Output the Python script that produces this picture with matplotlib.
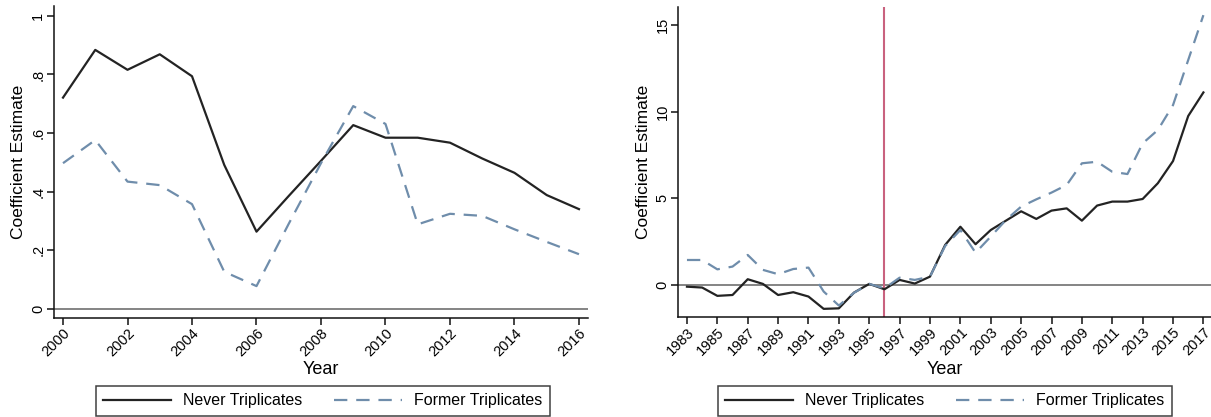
import matplotlib
matplotlib.use("Agg")
import matplotlib.pyplot as plt
import numpy as np

plt.rcParams['font.family'] = ['Liberation Sans Narrow', 'Liberation Sans', 'DejaVu Sans']

# Panel A: annual coefficient estimates, 2000-2016
years_a = list(range(2000, 2017))
never_a = [0.721, 0.884, 0.816, 0.869, 0.794, 0.491, 0.263, 0.385, 0.505,
           0.627, 0.584, 0.584, 0.567, 0.513, 0.464, 0.388, 0.340]
former_a = [0.497, 0.576, 0.434, 0.422, 0.357, 0.126, 0.077, 0.290, 0.497,
            0.692, 0.631, 0.288, 0.324, 0.317, 0.271, 0.228, 0.186]
yticks_a = [0, 0.2, 0.4, 0.6, 0.8, 1.0]
ylabels_a = ["0", ".2", ".4", ".6", ".8", "1"]

# Panel B: annual coefficient estimates, 1983-2017
years_b = list(range(1983, 2018))
never_b = [-0.10, -0.15, -0.63, -0.58, 0.33, 0.06, -0.58, -0.42, -0.67, -1.38,
           -1.35, -0.44, 0.06, -0.25, 0.29, 0.08, 0.48, 2.31, 3.36, 2.35,
           3.17, 3.71, 4.25, 3.81, 4.29, 4.42, 3.71, 4.58, 4.81, 4.81,
           4.96, 5.87, 7.15, 9.75, 11.11]
former_b = [1.44, 1.44, 0.90, 1.06, 1.73, 0.87, 0.62, 0.92, 1.00, -0.38,
            -1.19, -0.45, 0.06, -0.20, 0.42, 0.29, 0.48, 2.25, 3.17, 1.86,
            2.79, 3.75, 4.52, 4.94, 5.33, 5.77, 7.02, 7.11, 6.53, 6.40,
            8.17, 8.94, 10.38, 12.98, 15.57]
yticks_b = [0, 5, 10, 15]
ylabels_b = ["0", "5", "10", "15"]
event_year = 1996

series_labels = ["Never Triplicates", "Former Triplicates"]
solid_color = "#232323"
dash_color = "#6f8dab"

W, H = 1211, 417
fig = plt.figure(figsize=(W / 100, H / 100), dpi=100)


def box(x0, y0, x1, y1):
    return [x0 / W, 1 - y1 / H, (x1 - x0) / W, (y1 - y0) / H]


def style_axes(ax, years, step, ylabel_x):
    for s in ("top", "right"):
        ax.spines[s].set_visible(False)
    for s in ("left", "bottom"):
        ax.spines[s].set_linewidth(1.1)
        ax.spines[s].set_color("#111111")
    ax.tick_params(direction="out", length=5, width=1.1, color="#111111",
                   labelsize=10.5, pad=1)
    ax.set_xticks(years[::step])
    ax.set_xticklabels([str(y) for y in years[::step]], rotation=45,
                       ha="right", va="top", rotation_mode="anchor")
    for lab in ax.get_yticklabels():
        lab.set_rotation(90)
        lab.set_va("center")
    ax.set_xlabel("Year", fontsize=13)
    ax.set_ylabel("Coefficient Estimate", fontsize=12.5)
    bb = ax.get_position()
    ax.xaxis.set_label_coords(0.5, (1 - 369 / H - bb.y0) / bb.height)
    ax.yaxis.set_label_coords((ylabel_x / W - bb.x0) / bb.width, 0.5)
    ax.xaxis.label.set_va("center")
    ax.yaxis.label.set_ha("center")
    ax.yaxis.label.set_va("center")


# Left panel
ax1 = fig.add_axes(box(53.5, 6, 588, 318))
ax1.axhline(0, color="#707070", lw=1.2, zorder=1)
l1, = ax1.plot(years_a, never_a, color=solid_color, lw=1.6)
l2, = ax1.plot(years_a, former_a, color=dash_color, lw=1.6, ls=(0, (6, 4)))
ax1.set_xlim(1999.705, 2016.28)
ax1.set_ylim(-0.032, 1.034)
ax1.set_yticks(yticks_a)
ax1.set_yticklabels(ylabels_a)
style_axes(ax1, years_a, 2, 19)

# Right panel
ax2 = fig.add_axes(box(678, 7, 1211, 317))
ax2.axhline(0, color="#707070", lw=1.2, zorder=1)
ax2.axvline(event_year, color="#c9627f", lw=1.5, zorder=1)
ax2.plot(years_b, never_b, color=solid_color, lw=1.6)
ax2.plot(years_b, former_b, color=dash_color, lw=1.6, ls=(0, (6, 4)))
ax2.set_xlim(1982.41, 2017.5)
ax2.set_ylim(-1.85, 16.04)
ax2.set_yticks(yticks_b)
ax2.set_yticklabels(ylabels_b)
style_axes(ax2, years_b, 2, 643)

# Legends below each panel
for cx in (323, 945):
    leg = fig.legend([l1, l2], series_labels, loc="center",
                     bbox_to_anchor=(cx / W, 1 - 401 / H), ncol=2,
                     fontsize=11.5, frameon=True, fancybox=False,
                     edgecolor="#111111", handlelength=4.2,
                     columnspacing=2.0, handletextpad=0.8,
                     borderpad=0.45)
    leg.get_frame().set_linewidth(1.1)

fig.savefig("out.png", dpi=100)
